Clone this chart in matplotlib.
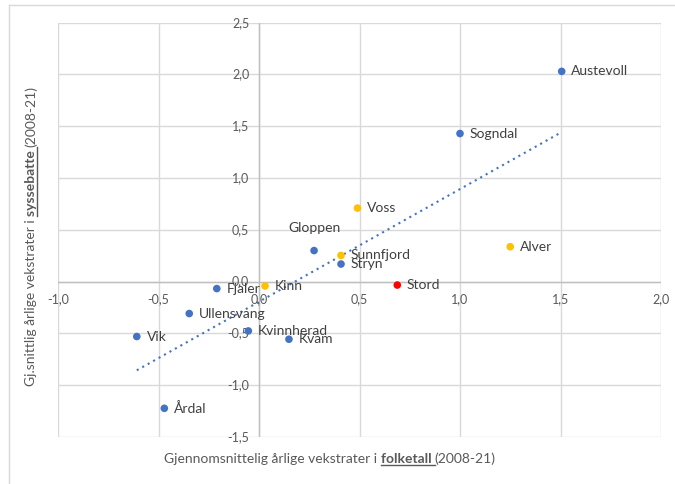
import matplotlib
matplotlib.use("Agg")
import matplotlib.pyplot as plt
from matplotlib.lines import Line2D
import numpy as np

names = ["Austevoll", "Sogndal", "Voss", "Alver", "Gloppen", "Sunnfjord", "Stryn",
         "Stord", "Kinn", "Fjaler", "Ullensvang", "Kvinnherad", "Kvam", "Vik", "Årdal"]
folketall = [1.506, 1.00, 0.49, 1.25, 0.274, 0.408, 0.408,
             0.688, 0.03, -0.21, -0.347, -0.053, 0.149, -0.608, -0.471]
syssel = [2.03, 1.43, 0.71, 0.337, 0.30, 0.253, 0.17,
          -0.033, -0.042, -0.067, -0.308, -0.476, -0.556, -0.53, -1.223]
groups = ["b", "b", "o", "o", "b", "o", "b", "r", "o", "b", "b", "b", "b", "b", "b"]
xticks = [-1.0, -0.5, 0.0, 0.5, 1.0, 1.5, 2.0]
yticks = [-1.5, -1.0, -0.5, 0.0, 0.5, 1.0, 1.5, 2.0, 2.5]
xtitle = ["Gjennomsnittelig årlige vekstrater i ", "folketall ", "(2008-21)"]
ytitle = ["Gj.snittlig årlige vekstrater i ", "syssebatte ", "(2008-21)"]

colors = {"b": "#4472C4", "o": "#FFC000", "r": "#FF0000"}
FONT = "Lato"
plt.rcParams["font.family"] = [FONT, "DejaVu Sans"]

W, H = 675, 484
fig = plt.figure(figsize=(W / 100, H / 100), dpi=100)
ax = fig.add_axes([58 / W, 1 - 437 / H, (661 - 58) / W, (437 - 22.7) / H])

grid_c = "#d9d9d9"
ax.set_xlim(-1, 2)
ax.set_ylim(-1.5, 2.5)
for v in xticks:
    ax.axvline(v, color=grid_c, lw=1, zorder=0)
for v in yticks:
    ax.axhline(v, color=grid_c, lw=1, zorder=0)
ax.axhline(0, color="#bfbfbf", lw=1, zorder=0.5)
ax.axvline(0, color="#bfbfbf", lw=1, zorder=0.5)
for s in ax.spines.values():
    s.set_visible(False)
ax.set_xticks([])
ax.set_yticks([])

tick_c = "#595959"
for v in xticks:
    lab = f"{v:.1f}".replace(".", ",")
    ax.annotate(lab, (v, 0), xytext=(0, -8), textcoords="offset points",
                ha="center", va="top", fontsize=9, color=tick_c)
for v in yticks:
    lab = f"{v:.1f}".replace(".", ",")
    ax.annotate(lab, (0, v), xytext=(-7, 0), textcoords="offset points",
                ha="right", va="center", fontsize=9, color=tick_c)

# trendline
xs = np.array(folketall)
ys = np.array(syssel)
k, m = np.polyfit(xs, ys, 1)
xl = np.array([xs.min(), xs.max()])
ax.plot(xl, k * xl + m, color="#4472C4", lw=1.5, ls=(0, (1, 2)), zorder=2)

for n, x, y, g in zip(names, folketall, syssel, groups):
    ax.scatter(x, y, s=30, color=colors[g], zorder=3, edgecolors="none")
    if n == "Gloppen":
        ax.annotate(n, (x, y), xytext=(0, 12), textcoords="offset points",
                    ha="center", va="bottom", fontsize=10, color="#404040")
    else:
        ax.annotate(n, (x, y), xytext=(7, 0), textcoords="offset points",
                    ha="left", va="center", fontsize=10, color="#404040")

renderer = fig.canvas.get_renderer()
TFS = 10


def measure(s, weight):
    t = fig.text(0, 0, s, fontsize=TFS, fontweight=weight)
    w = t.get_window_extent(renderer).width
    t.remove()
    return w


def title(parts, cx, cy, vertical):
    weights = ["normal", "bold", "normal"]
    widths = [measure(p, wt) for p, wt in zip(parts, weights)]
    total = sum(widths)
    pos = -total / 2
    for p, wt, w in zip(parts, weights, widths):
        if vertical:
            px, py = cx, cy + pos
        else:
            px, py = cx + pos, cy
        fig.text(px / W, py / H, p, fontsize=TFS, fontweight=wt, color=tick_c,
                 ha="left", va="baseline", rotation=90 if vertical else 0,
                 rotation_mode="anchor")
        if wt == "bold":
            if vertical:
                lx = [(cx + 1.5) / W] * 2
                ly = [(cy + pos) / H, (cy + pos + w) / H]
            else:
                lx = [(cx + pos) / W, (cx + pos + w) / W]
                ly = [(cy - 1.5) / H] * 2
            fig.add_artist(Line2D(lx, ly, color=tick_c, lw=1,
                                  transform=fig.transFigure))
        pos += w


title(xtitle, 330, H - 463, False)
title(ytitle, 35, H - 236, True)

# outer chart frame (left and top edges visible)
fig.add_artist(Line2D([9 / W, 9 / W], [0, 1 - 5 / H], color=grid_c, lw=1,
                      transform=fig.transFigure))
fig.add_artist(Line2D([9 / W, 1], [1 - 5 / H, 1 - 5 / H], color=grid_c, lw=1,
                      transform=fig.transFigure))

fig.savefig("out.png", dpi=100, facecolor="white")
